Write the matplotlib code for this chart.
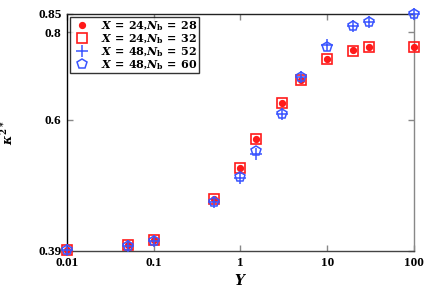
import matplotlib
matplotlib.use("Agg")
import matplotlib.pyplot as plt
from matplotlib.ticker import FixedLocator, FixedFormatter, NullLocator

plt.rcParams['font.family'] = 'Liberation Serif'
plt.rcParams['font.weight'] = 'bold'
plt.rcParams['mathtext.fontset'] = 'custom'
plt.rcParams['mathtext.it'] = 'DejaVu Serif:italic:bold'
plt.rcParams['mathtext.rm'] = 'DejaVu Serif:bold'
plt.rcParams['mathtext.bf'] = 'DejaVu Serif:bold'

# data
Y = [0.01, 0.05, 0.1, 0.5, 1, 1.5, 3, 5, 10, 20, 30, 100]
k_24_28 = [0.391, 0.398, 0.404, 0.462, 0.512, 0.563, 0.635, 0.684, 0.732, 0.755, 0.763, 0.763]
k_24_32 = [0.391, 0.398, 0.404, 0.462, 0.512, 0.563, 0.635, 0.684, 0.732, 0.753, 0.763, 0.763]
k_48_52 = [0.391, 0.397, 0.403, 0.458, 0.496, 0.537, 0.611, 0.690, 0.768, 0.818, 0.829, 0.849]
k_48_60 = [0.391, 0.397, 0.403, 0.458, 0.497, 0.541, 0.611, 0.690, 0.762, 0.818, 0.829, 0.849]

labels = [r'$X\,=\,24$,$N_\mathrm{b}\,=\,28$',
          r'$X\,=\,24$,$N_\mathrm{b}\,=\,32$',
          r'$X\,=\,48$,$N_\mathrm{b}\,=\,52$',
          r'$X\,=\,48$,$N_\mathrm{b}\,=\,60$']

red = '#ff1a1a'
blue = '#3a55ff'

fig = plt.figure(figsize=(4.36, 2.91), dpi=100)
ax = fig.add_axes([0.1537, 0.1375, 0.7958, 0.8144])

ax.plot(Y, k_24_28, 'o', color=red, ms=4.2, mec=red, label=labels[0], clip_on=False, zorder=3)
ax.plot(Y, k_24_32, 's', mfc='none', mec=red, ms=7.5, mew=1.2, label=labels[1], clip_on=False, zorder=3)
ax.plot(Y, k_48_52, '+', color=blue, ms=8, mew=1.1, label=labels[2], clip_on=False, zorder=4)
ax.plot(Y, k_48_60, 'p', mfc='none', mec=blue, ms=7, mew=1.1, label=labels[3], clip_on=False, zorder=4)

ax.set_xscale('log')
ax.set_yscale('log')
ax.set_xlim(0.01, 100)
ax.set_ylim(0.39, 0.85)

ax.xaxis.set_major_locator(FixedLocator([0.01, 0.1, 1, 10, 100]))
ax.xaxis.set_major_formatter(FixedFormatter(['0.01', '0.1', '1', '10', '100']))
ax.xaxis.set_minor_locator(NullLocator())
ax.yaxis.set_major_locator(FixedLocator([0.39, 0.6, 0.8, 0.85]))
ax.yaxis.set_major_formatter(FixedFormatter(['0.39', '0.6', '0.8', '0.85']))
ax.yaxis.set_minor_locator(NullLocator())

ax.tick_params(which='both', direction='in', top=True, right=True, length=4,
               width=1, color='#888888', labelsize=9.5, pad=4)
for lab in ax.get_xticklabels() + ax.get_yticklabels():
    lab.set_fontweight('bold')

ax.spines['left'].set_color('black')
ax.spines['top'].set_color('#222222')
ax.spines['bottom'].set_color('#444444')
ax.spines['right'].set_color('#888888')
for s in ax.spines.values():
    s.set_linewidth(1)

ax.set_xlabel(r'$Y$', fontsize=10, labelpad=3)
ax.set_ylabel(r'$\kappa^{2*}$', fontsize=9, labelpad=16)

leg = ax.legend(loc='upper left', fontsize=8, frameon=True, fancybox=False,
                borderpad=0.15, labelspacing=-0.05, handletextpad=0.8,
                handlelength=1.8, borderaxespad=0.3, edgecolor='black')
leg.get_frame().set_linewidth(1)

fig.savefig('out.png', dpi=100)
